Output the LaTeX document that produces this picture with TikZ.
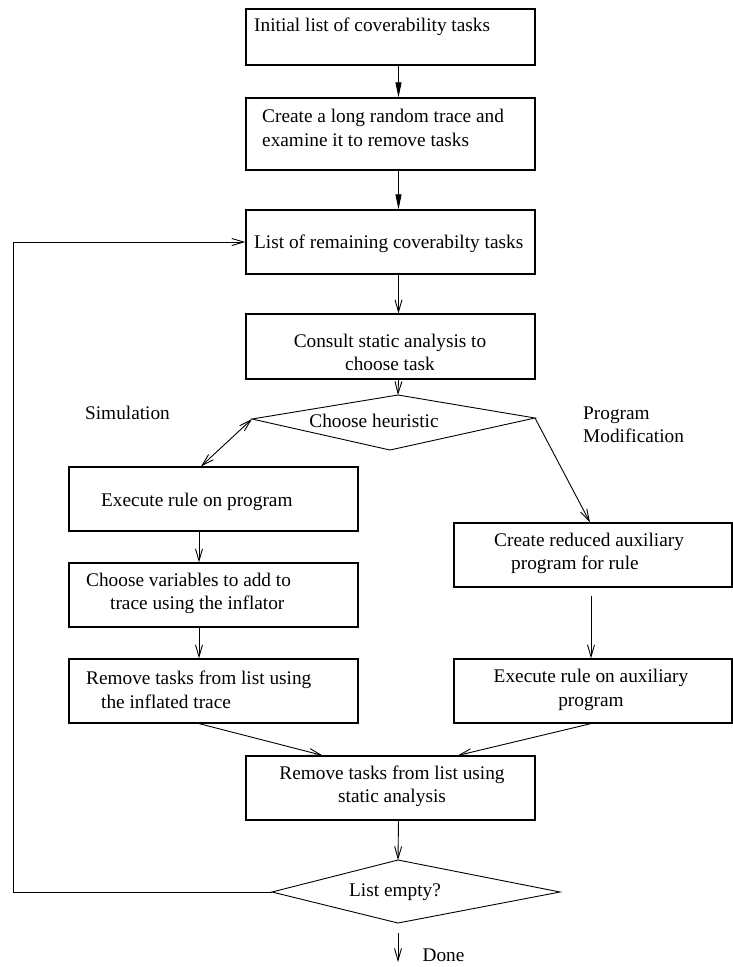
\documentclass[tikz,border=0pt]{standalone}
\usepackage{fontspec}
\setmainfont{Liberation Serif}
\usetikzlibrary{arrows.meta,calc}

\begin{document}
\begin{tikzpicture}[x=1pt, y=-1pt,
    every node/.style={font=\fontsize{19.3}{23.5}\selectfont},
    box/.style={draw, line width=1.2pt, inner sep=0pt, minimum width=289pt, minimum height=64pt},
    txt/.style={inner sep=0pt},
    flow/.style={line width=0.9pt, -{Straight Barb[length=12pt,width=7pt]}},
    twoway/.style={line width=0.9pt, {Straight Barb[length=12pt,width=7pt]}-{Straight Barb[length=12pt,width=7pt]}},
    bold flow/.style={line width=0.9pt, -{Triangle[length=15pt,width=6pt]}}]

    % --- Frame (pixel units, y downwards) ---
    \useasboundingbox (0,0) rectangle (733,967);

    % --- Boxes ---
    % Middle column
    \node[box, minimum height=56pt] (b1) at (390.5,37) {};
    \node[box, minimum height=72pt] (b2) at (390.5,134) {};
    \node[box] (b3) at (390.5,242) {};
    \node[box, minimum height=65pt] (b4) at (390.5,346.5) {};
    % Simulation branch (left)
    \node[box] (b5) at (213.5,499) {};
    \node[box] (b6) at (213.5,595) {};
    \node[box] (b7) at (213.5,691) {};
    % Program modification branch (right)
    \node[box, minimum width=278pt] (r1) at (593,555) {};
    \node[box, minimum width=278pt] (r2) at (593,691) {};
    % Joining box
    \node[box] (b8) at (390.5,788) {};

    % --- Decision diamonds (drawn from their corners) ---
    \coordinate (d1t) at (398,395);
    \coordinate (d1l) at (252,419);
    \coordinate (d1r) at (535,418);
    \coordinate (d1b) at (390,450);
    \draw[line width=0.9pt] (d1t) -- (d1r) -- (d1b) -- (d1l) -- cycle;

    \coordinate (d2t) at (398,860);
    \coordinate (d2l) at (272,892);
    \coordinate (d2r) at (560,892);
    \coordinate (d2b) at (398,923);
    \draw[line width=0.9pt] (d2t) -- (d2r) -- (d2b) -- (d2l) -- cycle;

    % --- Texts ---
    \node[txt, anchor=west] (t1) at (254,27) {Initial list of coverability tasks};
    \node[txt, anchor=west, align=left] (t2) at (262,128) {Create a long random trace and\\examine it to remove tasks};
    \node[txt, anchor=west] (t3) at (254,244) {List of remaining coverabilty tasks};
    \node[txt, align=center] (t4) at (390,352.5) {Consult static analysis to\\choose task};
    \node[txt] (heur) at (374,421) {Choose heuristic};
    \node[txt] (sim) at (127.5,413) {Simulation};
    \node[txt, anchor=west, align=left] (mod) at (583,425) {Program\\Modification};
    \node[txt, anchor=west] (t5) at (101,502) {Execute rule on program};
    \node[txt, anchor=west, align=left] (t6) at (86,593.5) {Choose variables to add to\\\hspace*{24pt}trace using the inflator};
    \node[txt, anchor=west, align=left] (t7) at (86,690) {Remove tasks from list using\\\hspace*{15pt}the inflated trace};
    \node[txt, anchor=west, align=left] (t9) at (494,553.5) {Create reduced auxiliary\\\hspace*{17pt}program for rule};
    \node[txt, align=center] (t10) at (591,690) {Execute rule on auxiliary\\program};
    \node[txt, align=center] (t8) at (392,786.5) {Remove tasks from list using\\static analysis};
    \node[txt] (empty) at (395,892) {List empty?};
    \node[txt] (done) at (443.5,955) {Done};

    % --- Connectors ---
    \draw[bold flow] ([xshift=8pt]b1.south) -- ([xshift=8pt]b2.north);
    \draw[bold flow] ([xshift=8pt]b2.south) -- ([xshift=8pt]b3.north);
    \draw[flow] ([xshift=8pt]b3.south) -- ([xshift=8pt]b4.north);
    \draw[flow] ([xshift=8pt]b4.south) -- (d1t);

    % branches out of the heuristic choice
    \draw[twoway] (d1l) -- ([xshift=-12.5pt]b5.north);
    \draw[flow] (d1r) -- ([xshift=-3pt]r1.north);

    \draw[flow] ([xshift=-14.5pt]b5.south) -- ([xshift=-14.5pt]b6.north);
    \draw[flow] ([xshift=-14.5pt]b6.south) -- ([xshift=-14.5pt]b7.north);
    \draw[flow] ([xshift=-2pt,yshift=-8pt]r1.south) -- ([xshift=-2pt]r2.north);

    % both branches join
    \draw[flow] ([xshift=-14.5pt]b7.south) -- ([xshift=-68pt]b8.north);
    \draw[flow] ([xshift=-2pt]r2.south) -- ([xshift=67.5pt]b8.north);
    \draw[flow] ([xshift=8pt]b8.south) -- (d2t);

    % loop back while tasks remain
    \coordinate (back) at (13,892);
    \draw[flow] (d2l) -- (back) |- (b3.west);

    % exit
    \coordinate (stop) at (398,962);
    \draw[flow] ([yshift=-10pt]d2b) -- (stop);

\end{tikzpicture}
\end{document}
